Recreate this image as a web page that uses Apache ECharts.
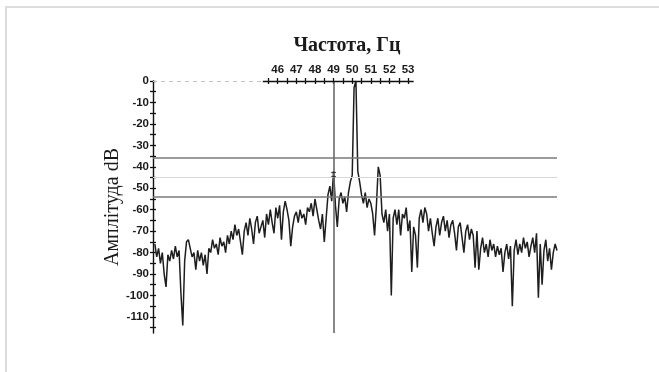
<!DOCTYPE html>
<html><head><meta charset="utf-8">
<script src="https://cdn.jsdelivr.net/npm/echarts@6/dist/echarts.min.js"></script>
<style>
html,body{margin:0;padding:0;background:#fff;overflow:hidden;width:659px;height:372px;}
#frame{position:absolute;left:5px;top:6px;width:654px;height:366px;border-left:2px solid #dcdcdc;border-top:2px solid #dcdcdc;box-sizing:border-box;}
#chart{position:absolute;left:0;top:0;width:659px;height:372px;}
</style></head><body>
<div id="frame"></div><div id="chart"></div>
<script>
// sampling grid of the spectrum (Hz)
const freqStart = 39.4;
const freqStep = 0.1;
// amplitude, dB, one value per 0.1 Hz from 39.4 Hz
const amplitude = [
  -76, -82, -78, -85, -80, -90, -96, -81, -84, -79,
  -83, -77, -82, -79, -99, -114, -84, -75, -74, -78,
  -82, -80, -88, -79, -84, -80, -86, -81, -90, -78,
  -80, -74, -78, -76, -81, -73, -77, -75, -80, -72,
  -76, -70, -74, -67, -72, -69, -75, -81, -70, -66,
  -72, -64, -69, -76, -66, -63, -71, -68, -65, -73,
  -62, -67, -60, -66, -71, -59, -64, -58, -74, -61,
  -56, -60, -65, -77, -68, -63, -61, -66, -60, -64,
  -62, -67, -59, -61, -57, -63, -55, -60, -65, -69,
  -62, -75, -64, -53, -49, -56, -42, -58, -68, -55,
  -52, -57, -54, -61, -52, -47, -44, -3, 0, -42,
  -47, -53, -57, -52, -59, -55, -57, -62, -72, -58,
  -40, -44, -62, -66, -60, -70, -62, -100, -64, -60,
  -67, -60, -72, -62, -64, -59, -70, -65, -89, -68,
  -72, -87, -64, -60, -66, -59, -62, -70, -64, -71,
  -77, -68, -64, -72, -66, -63, -70, -65, -73, -67,
  -65, -71, -79, -68, -66, -73, -80, -70, -67, -74,
  -69, -72, -87, -70, -88, -78, -73, -80, -76, -82,
  -74, -79, -76, -82, -77, -81, -78, -89, -80, -76,
  -83, -77, -105, -79, -74, -81, -76, -80, -73, -78,
  -75, -82, -77, -73, -80, -71, -101, -76, -95, -79,
  -74, -84, -78, -88, -80, -76, -79
];
const xMin = 39.3, xMax = 61.0;
const yMin = -117.5, yMax = 0;
const topTickValues = [45.5,46,46.5,47,47.5,48,48.5,49,49.5,50,50.5,51,51.5,52,52.5,53];
const topLabelValues = [46,47,48,49,50,51,52,53];
const topAxisRange = [45.2, 53.3];
const yTickValues = [-115,-110,-105,-100,-95,-90,-85,-80,-75,-70,-65,-60,-55,-50,-45,-40,-35,-30,-25,-20,-15,-10,-5,0];
const yLabelValues = [-110,-100,-90,-80,-70,-60,-50,-40,-30,-20,-10,0];
const refLevels = [-36, -54];
const faintLevels = [-45];
const cursorFreq = 49;
const cursorMarks = [-42.5, -44.5];

const spectrum = amplitude.map((v, i) => [+(freqStart + i * freqStep).toFixed(1), v]);

const markData = [];
refLevels.forEach(l => markData.push([{coord:[xMin,l], lineStyle:{color:'#7a7a7a',width:1.6,type:'solid'}},{coord:[xMax,l]}]));
faintLevels.forEach(l => markData.push([{coord:[xMin,l], lineStyle:{color:'#d8d8d8',width:1,type:'solid'}},{coord:[xMax,l]}]));
markData.push([{coord:[cursorFreq,yMax], lineStyle:{color:'#6a6a6a',width:1.6,type:'solid'}},{coord:[cursorFreq,yMin]}]);
markData.push([{coord:[xMin,0], lineStyle:{color:'#c4c4c4',width:1,type:[4,4]}},{coord:[topAxisRange[0],0]}]);
markData.push([{coord:[topAxisRange[0],0], lineStyle:{color:'#111',width:1.4,type:'solid'}},{coord:[topAxisRange[1],0]}]);
cursorMarks.forEach(l => markData.push([{coord:[cursorFreq-0.12,l], lineStyle:{color:'#333',width:1.2,type:'solid'}},{coord:[cursorFreq+0.12,l]}]));

const labelFont = {fontFamily:'Liberation Sans', fontSize:11.5, fontWeight:'bold', color:'#1a1a1a'};

const chart = echarts.init(document.getElementById('chart'), null, {renderer:'canvas'});
chart.setOption({
  animation: false,
  backgroundColor: 'transparent',
  title: {
    text: 'Частота, Гц', left: 342, top: 31, textAlign: 'center',
    textStyle: {fontFamily:'Liberation Serif', fontSize:20, fontWeight:'bold', color:'#1a1a1a'}
  },
  grid: {left:153, right:102, top:81, bottom:39, containLabel:false},
  xAxis: [
    {type:'value', min:xMin, max:xMax, show:false},
    {type:'value', min:xMin, max:xMax, position:'top',
     axisLine:{show:false}, splitLine:{show:false},
     axisTick:{show:true, inside:false, length:3, customValues:topTickValues, lineStyle:{color:'#111',width:1.3}},
     axisLabel:Object.assign({show:true, margin:5, customValues:topLabelValues}, labelFont)},
    {type:'value', min:xMin, max:xMax, position:'top',
     axisLine:{show:false}, splitLine:{show:false},
     axisTick:{show:true, inside:true, length:3, customValues:topTickValues, lineStyle:{color:'#111',width:1.3}},
     axisLabel:{show:false}}
  ],
  yAxis: [
    {type:'value', min:yMin, max:yMax, position:'left',
     name:'Амплітуда dB', nameLocation:'middle', nameGap:30, nameRotate:90, nameMoveOverlap:false,
     nameTextStyle:{fontFamily:'Liberation Serif', fontSize:20, color:'#1a1a1a'},
     axisLine:{show:true, onZero:false, lineStyle:{color:'#111',width:1.4}},
     splitLine:{show:false},
     axisTick:{show:true, inside:false, length:3, customValues:yTickValues, lineStyle:{color:'#111',width:1.3}},
     axisLabel:Object.assign({show:true, margin:4, customValues:yLabelValues}, labelFont)},
    {type:'value', min:yMin, max:yMax, position:'left',
     axisLine:{show:false}, splitLine:{show:false},
     axisTick:{show:true, inside:true, length:3, customValues:yTickValues, lineStyle:{color:'#111',width:1.3}},
     axisLabel:{show:false}}
  ],
  series: [{
    type:'line', xAxisIndex:0, yAxisIndex:0, data:spectrum, symbol:'none',
    lineStyle:{color:'#1e1e1e', width:1.5}, clip:false,
    markLine:{silent:true, symbol:'none', label:{show:false}, animation:false, data:markData}
  }]
});
</script>
</body></html>
